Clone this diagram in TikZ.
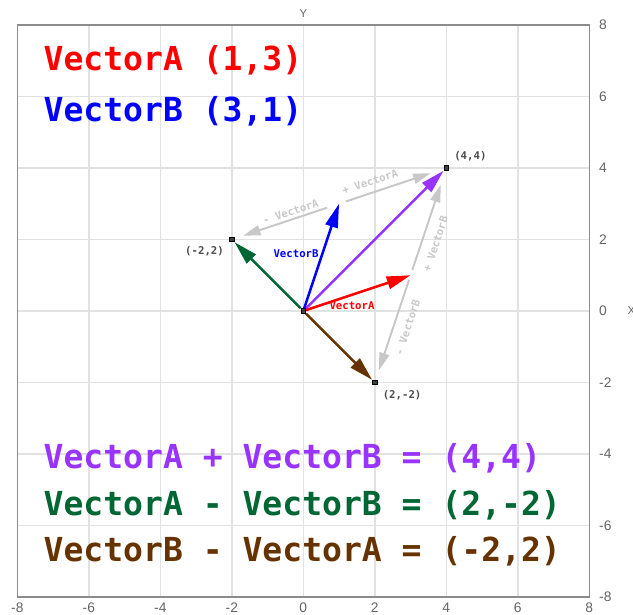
\documentclass[tikz,border=0pt]{standalone}
\usepackage{fontspec}
\usepackage{xcolor}
\usepackage{tikz}
\usetikzlibrary{positioning,arrows.meta}
\setmainfont{Liberation Sans}
\newfontfamily\vecfont{DejaVu Sans Mono}
\definecolor{vred}{RGB}{255,0,0}
\definecolor{vblue}{RGB}{0,0,255}
\definecolor{vsum}{RGB}{153,51,255}
\definecolor{vgreen}{RGB}{0,102,51}
\definecolor{vbrown}{RGB}{102,51,0}
\definecolor{helper}{RGB}{200,200,200}
\definecolor{gridc}{RGB}{226,226,226}
\definecolor{framec}{RGB}{140,140,140}
\definecolor{tickc}{RGB}{100,100,100}
\tikzset{
    vec/.style={-{Triangle[length=19pt,width=10pt]},line width=2pt},
    helparr/.style={-{Triangle[length=14pt,width=8pt]},line width=1.6pt,draw=helper},
    vpt/.style={rectangle,draw=black,fill=black!75,minimum size=3.5pt,inner sep=0pt,line width=0.8pt},
    ptlbl/.style={font=\vecfont\bfseries\fontsize{8.5}{10}\selectfont,text=black!70,inner sep=1pt},
    hlbl/.style={font=\vecfont\bfseries\fontsize{8.5}{10}\selectfont,text=helper,inner sep=1pt},
    vlbl/.style={font=\vecfont\bfseries\fontsize{8.5}{10}\selectfont,inner sep=1pt},
    bigtxt/.style={anchor=base west,font=\vecfont\bfseries\fontsize{26.3}{30}\selectfont,inner sep=0pt},
    ticklbl/.style={font=\fontsize{11}{13}\selectfont,text=tickc,inner sep=0pt},
}

\begin{document}
\begin{tikzpicture}
\useasboundingbox (-8.484,-8.476) rectangle (9.222,8.699);
% grid and frame
\draw[gridc,line width=1.2pt] (-8,-8) grid[step=2] (8,8);
\draw[framec,line width=1.2pt] (-8,-8) rectangle (8,8);
\foreach \v [count=\i] in {-8,-6,...,8} {
  \node[ticklbl] (tx\i) at (\v,-8.31) {\v};
  \node[ticklbl,anchor=west] (ty\i) at (8.27,\v) {\v};
}
\node[ticklbl,font=\fontsize{9}{10}\selectfont] (ylab) at (0,8.31) {Y};
\node[ticklbl,font=\fontsize{9}{10}\selectfont] (xlab) at (9.18,0) {X};

% points
\node[vpt] (o) at (0,0) {};
\node[vpt] (s) at (4,4) {};
\node[vpt] (d) at (-2,2) {};
\node[vpt] (e) at (2,-2) {};
\coordinate (a) at (3,1);
\coordinate (b) at (1,3);

% helper arrows
\draw[helparr,shorten <=0.2cm,shorten >=0.38cm] (b) -- (s)
  node[hlbl,pos=0.33,rotate=18.43,anchor=south,yshift=4pt] (pa) {+ VectorA};
\draw[helparr,shorten <=0.35cm,shorten >=0.25cm] (b) -- (d)
  node[hlbl,pos=0.44,rotate=18.43,anchor=south,yshift=1pt] (ma) {- VectorA};
\draw[helparr,shorten <=0.16cm,shorten >=0.41cm] (a) -- (s)
  node[hlbl,pos=0.34,rotate=71.57,anchor=north,yshift=-6pt] (pb) {+ VectorB};
\draw[helparr,shorten <=0.13cm,shorten >=0.28cm] (a) -- (e)
  node[hlbl,pos=0.46,rotate=71.57,anchor=north,yshift=-6pt] (mb) {- VectorB};

% vectors
\draw[vec,vsum] (o) -- (s);
\draw[vec,vgreen] (o) -- (d);
\draw[vec,vbrown] (o) -- (e);
\draw[vec,vred] (o) -- (a) node[vlbl,text=vred,pos=0.44,below=3.5pt] (la) {VectorA};
\draw[vec,vblue] (o) -- (b) node[vlbl,text=vblue,pos=0.52,left=1pt] (lb) {VectorB};

\node[ptlbl,above right=2pt and 3pt of s] (ls) {(4,4)};
\node[ptlbl,below left=2pt and 3pt of d] (ld) {(-2,2)};
\node[ptlbl,below right=3pt and 3pt of e] (le) {(2,-2)};

% formulas
\node[bigtxt,text=vred] (ta) at (-7.27,6.74) {VectorA (1,3)};
\node[bigtxt,text=vblue] (tb) at (-7.27,5.30) {VectorB (3,1)};
\node[bigtxt,text=vsum] (tsum) at (-7.27,-4.40) {VectorA + VectorB = (4,4)};
\node[bigtxt,text=vgreen] (tdif) at (-7.27,-5.71) {VectorA - VectorB = (2,-2)};
\node[bigtxt,text=vbrown] (tneg) at (-7.27,-7.01) {VectorB - VectorA = (-2,2)};
\end{tikzpicture}
\end{document}
